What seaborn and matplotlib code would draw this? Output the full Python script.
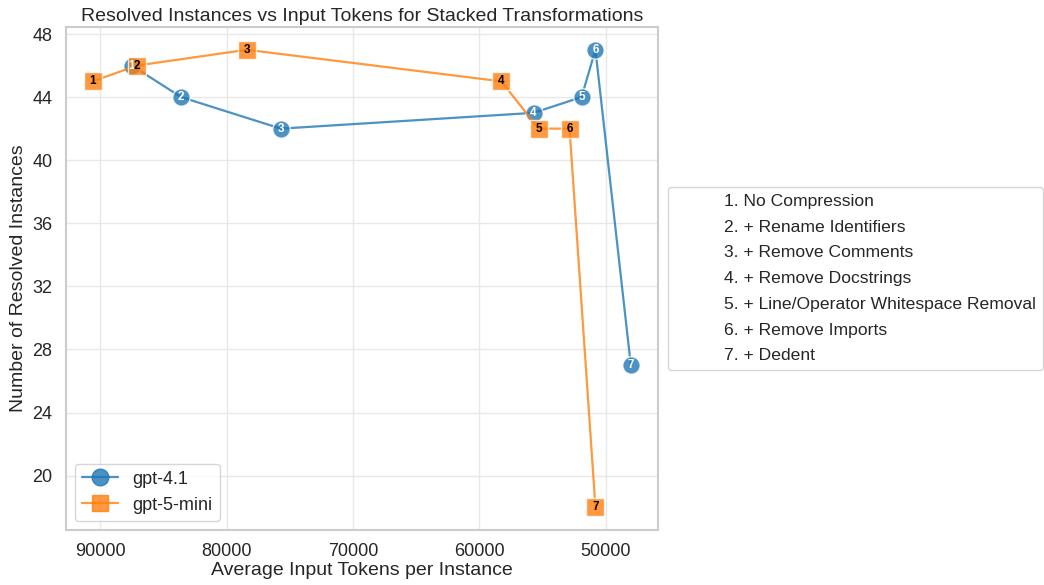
import matplotlib
matplotlib.use("Agg")
import matplotlib.pyplot as plt
from matplotlib.lines import Line2D
import seaborn as sns
import pandas as pd

steps = [1, 2, 3, 4, 5, 6, 7]
step_names = ["No Compression", "+ Rename Identifiers", "+ Remove Comments",
              "+ Remove Docstrings", "+ Line/Operator Whitespace Removal",
              "+ Remove Imports", "+ Dedent"]
gpt41_tokens = [87500, 83600, 75700, 55700, 51900, 50800, 48000]
gpt41_resolved = [46, 44, 42, 43, 44, 47, 27]
gpt5mini_tokens = [90600, 87100, 78400, 58250, 55300, 52850, 50800]
gpt5mini_resolved = [45, 46, 47, 45, 42, 42, 18]
models = ["gpt-4.1", "gpt-5-mini"]

sns.set_theme(style="whitegrid", rc={"grid.color": "#e8e8e8", "grid.linewidth": 1.0})
plt.rcParams['font.family'] = ['Arial', 'Liberation Sans', 'DejaVu Sans']

df = pd.DataFrame({
    "model": [models[0]] * 7 + [models[1]] * 7,
    "step": steps + steps,
    "tokens": gpt41_tokens + gpt5mini_tokens,
    "resolved": gpt41_resolved + gpt5mini_resolved,
})

colors = {"gpt-4.1": "#1f77b4", "gpt-5-mini": "#ff7f0e"}
marks = {"gpt-4.1": "o", "gpt-5-mini": "s"}
txtc = {"gpt-4.1": "white", "gpt-5-mini": "black"}

fig = plt.figure(figsize=(10.44, 5.85), dpi=100)
ax = fig.add_axes([0.063, 0.094, 0.567, 0.860])

sns.lineplot(data=df, x="tokens", y="resolved", hue="model", style="model",
             markers=marks, dashes=False, sort=False, palette=colors,
             markersize=12.5, alpha=0.8, linewidth=1.6, markeredgecolor="white",
             markeredgewidth=1.0, ax=ax, legend=False)

for _, r in df.iterrows():
    ax.text(r["tokens"], r["resolved"], str(r["step"]), ha="center", va="center",
            fontsize=8.5, fontweight="bold", color=txtc[r["model"]], zorder=5)

ax.invert_xaxis()
ax.set_yticks([20, 24, 28, 32, 36, 40, 44, 48])
ax.set_xticks([90000, 80000, 70000, 60000, 50000])
ax.tick_params(labelsize=13)
ax.set_xlabel("Average Input Tokens per Instance", fontsize=14, labelpad=1)
ax.set_ylabel("Number of Resolved Instances", fontsize=14)
ax.set_title("Resolved Instances vs Input Tokens for Stacked Transformations", fontsize=14, pad=4)
for s in ax.spines.values():
    s.set_color("#cccccc")
    s.set_linewidth(1.5)

h = [Line2D([], [], color=colors[m], marker=marks[m], markersize=12, alpha=0.8,
            linewidth=1.6) for m in models]
leg1 = ax.legend(h, models, loc="lower left", fontsize=13, frameon=True)
ax.add_artist(leg1)

blank = [Line2D([], [], color="none") for _ in steps]
ax.legend(blank, [f"{s}. {n}" for s, n in zip(steps, step_names)],
          loc="center left", bbox_to_anchor=(1.002, 0.5), fontsize=12.6,
          labelspacing=0.6, frameon=True)

fig.savefig("out.png", dpi=100)
